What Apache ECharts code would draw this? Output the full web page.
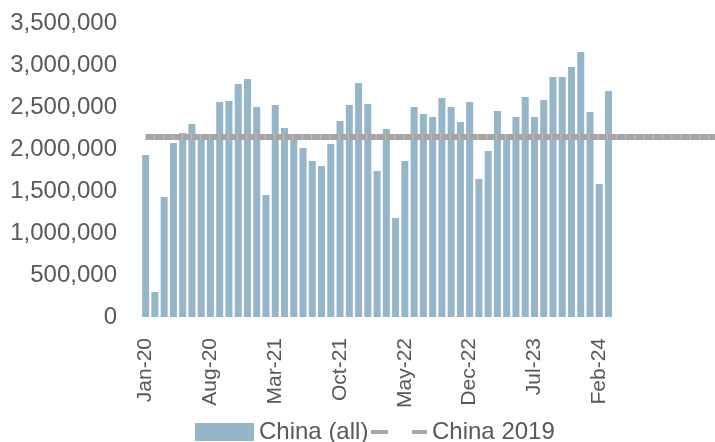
<!DOCTYPE html>
<html>
<head>
<meta charset="utf-8">
<script src="https://cdn.jsdelivr.net/npm/echarts@6/dist/echarts.min.js"></script>
<style>html,body{margin:0;padding:0;background:#fff}#c{width:715px;height:442px}</style>
</head>
<body>
<div id="c"></div>
<script>
const months = ['Jan-20','Feb-20','Mar-20','Apr-20','May-20','Jun-20','Jul-20','Aug-20','Sep-20','Oct-20','Nov-20','Dec-20',
  'Jan-21','Feb-21','Mar-21','Apr-21','May-21','Jun-21','Jul-21','Aug-21','Sep-21','Oct-21','Nov-21','Dec-21',
  'Jan-22','Feb-22','Mar-22','Apr-22','May-22','Jun-22','Jul-22','Aug-22','Sep-22','Oct-22','Nov-22','Dec-22',
  'Jan-23','Feb-23','Mar-23','Apr-23','May-23','Jun-23','Jul-23','Aug-23','Sep-23','Oct-23','Nov-23','Dec-23',
  'Jan-24','Feb-24','Mar-24'];
const chinaAll = [1929000, 298000, 1429000, 2071000, 2190000, 2298000, 2170000, 2180000, 2560000, 2571000, 2774000, 2833000,
  2500000, 1452000, 2524000, 2250000, 2150000, 2012000, 1857000, 1798000, 2060000, 2333000, 2524000, 2786000,
  2536000, 1738000, 2238000, 1179000, 1857000, 2500000, 2417000, 2381000, 2607000, 2500000, 2321000, 2560000,
  1643000, 1976000, 2452000, 2160000, 2381000, 2619000, 2381000, 2583000, 2857000, 2857000, 2976000, 3155000,
  2440000, 1583000, 2690000];
const china2019 = 2143000;
const yTicks = [0, 500000, 1000000, 1500000, 2000000, 2500000, 3000000, 3500000];

const FONT = "'Liberation Sans', Arial, sans-serif";
const TXT = '#595959';
const lastSlot = 61;

const chart = echarts.init(document.getElementById('c'), null, {renderer: 'canvas'});

function buildOption(endPoint) {
  return {
    animation: false,
    textStyle: {fontFamily: FONT},
    grid: {left: 141, top: 23, right: 0, bottom: 125},
    legend: [
      {data: [{name: 'China (all)', icon: 'rect'}], left: 195, top: 420, padding: 0, itemWidth: 59, itemHeight: 18,
       textStyle: {fontSize: 24, color: TXT, fontFamily: FONT}, selectedMode: false},
      {data: [{name: 'China 2019', icon: 'path://M0,0H17V4H0Z M41,0H56V4H41Z'}], left: 371, top: 420, padding: 0, itemWidth: 56, itemHeight: 4,
       textStyle: {fontSize: 24, color: TXT, fontFamily: FONT}, selectedMode: false}
    ],
    xAxis: {
      type: 'category',
      data: months,
      max: lastSlot,
      boundaryGap: true,
      axisLine: {show: false},
      axisTick: {show: false},
      splitLine: {show: false},
      axisLabel: {
        rotate: 90, margin: 21, fontSize: 21, color: TXT, fontFamily: FONT,
        interval: (idx) => idx % 7 === 0 && idx < months.length,
        formatter: (v) => (v == null ? '' : v)
      }
    },
    yAxis: {
      type: 'value', min: yTicks[0], max: yTicks[yTicks.length - 1], interval: yTicks[1] - yTicks[0],
      axisLine: {show: false}, axisTick: {show: false}, splitLine: {show: false},
      axisLabel: {margin: 24, fontSize: 24, color: TXT, fontFamily: FONT,
        formatter: (v) => v.toLocaleString('en-US')}
    },
    series: [
      {name: 'China (all)', type: 'bar', data: chinaAll, barWidth: 7, itemStyle: {color: '#94b6c8'}, silent: true,
       markLine: {
         silent: true, symbol: 'none', label: {show: false}, animation: false,
         emphasis: {disabled: true},
         data: [
           [{coord: [0, china2019], lineStyle: {color: '#c2c2c2', width: 6, type: 'solid'}}, endPoint],
           [{coord: [0, china2019], lineStyle: {color: '#a5a5a5', width: 6, type: [8.24, 1]}}, endPoint]
         ]
       }},
      {name: 'China 2019', type: 'line', data: [], itemStyle: {color: '#a5a5a5'}, lineStyle: {color: '#a5a5a5', width: 4}}
    ]
  };
}

chart.setOption(buildOption({coord: [lastSlot, china2019]}));
const py = chart.convertToPixel({gridIndex: 0}, [0, china2019])[1];
chart.setOption(buildOption({x: chart.getWidth(), y: py}), true);
</script>
</body>
</html>
